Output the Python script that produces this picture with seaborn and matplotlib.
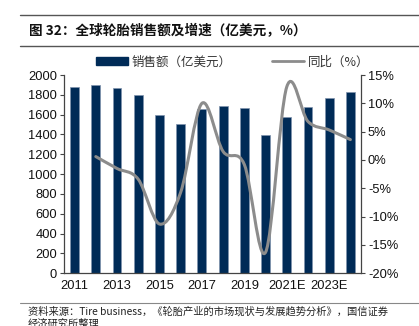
import matplotlib
matplotlib.use("Agg")
import matplotlib.pyplot as plt
import seaborn as sns
import pandas as pd
import numpy as np
from matplotlib.path import Path
from matplotlib.patches import PathPatch
from matplotlib.lines import Line2D
from matplotlib.patches import Patch

years = ["2011", "2012", "2013", "2014", "2015", "2016", "2017", "2018", "2019",
         "2020", "2021E", "2022E", "2023E", "2024E"]
sales = [1882, 1896, 1866, 1801, 1597, 1506, 1657, 1684, 1667, 1395, 1573, 1680, 1768, 1832]
yoy_years = years[1:]
yoy = [0.6, -1.5, -3.4, -11.3, -5.7, 10.0, 1.5, -0.8, -16.3, 12.9, 6.8, 5.3, 3.6]

title = "图 32：全球轮胎销售额及增速（亿美元，%）"
bar_label = "销售额（亿美元）"
line_label = "同比（%）"
source = "资料来源：Tire business，《轮胎产业的市场现状与发展趋势分析》，国信证券\n经济研究所整理"

sns.set_theme(style="white")
plt.rcParams['font.family'] = ['Liberation Sans', 'Noto Sans CJK SC', 'DejaVu Sans']
cjk = ['Noto Sans CJK SC', 'DejaVu Sans']

BAR = "#002b57"
LINE = "#8c8c8c"

fig = plt.figure(figsize=(4.19, 3.26), dpi=100)
ax = fig.add_axes([64/419, 1-273.3/326, (361-64)/419, (273.3-75)/326])

df = pd.DataFrame({"year": years, "sales": sales})
sns.barplot(data=df, x="year", y="sales", color=BAR, width=0.42, ax=ax,
            saturation=1, edgecolor="#7f93ad", linewidth=0.5)
ax.set_xlim(-0.5, len(years) - 0.5)
ax.set_ylim(0, 2000)
ax.set_yticks(range(0, 2001, 200))
ax.set_xlabel("")
ax.set_ylabel("")
ax.set_xticks(np.arange(-0.5, len(years), 1.0), minor=False)
ax.set_xticklabels([])
ax.set_xticks(np.arange(0, len(years), 2), minor=True)
ax.set_xticklabels(years[::2], minor=True)
ax.tick_params(axis="x", which="major", direction="out", length=3, width=0.8, color="#444444")
ax.tick_params(axis="x", which="minor", length=0, labelsize=9.3, pad=5, labelcolor="#111111")
ax.tick_params(axis="y", direction="out", length=3, width=0.8, color="#444444", labelsize=9.3, pad=2,
               labelcolor="#111111")
for s in ["top", "right"]:
    ax.spines[s].set_visible(False)
for s in ["left", "bottom"]:
    ax.spines[s].set_color("#444444")
    ax.spines[s].set_linewidth(0.9)

ax2 = ax.twinx()
ax2.set_ylim(-20, 15)
ax2.set_yticks(range(-20, 16, 5))
ax2.set_yticklabels([f"{v}%" for v in range(-20, 16, 5)])
ax2.tick_params(axis="y", direction="out", length=3, width=0.8, color="#444444", labelsize=9.3, pad=2,
                labelcolor="#111111")
for s in ["top", "left", "bottom"]:
    ax2.spines[s].set_visible(False)
ax2.spines["right"].set_color("#444444")
ax2.spines["right"].set_linewidth(0.9)

# smooth line (Catmull-Rom -> cubic Bezier) through the data points
xs = np.array([years.index(y) for y in yoy_years], dtype=float)
ys = np.array(yoy, dtype=float)
verts = [(xs[0], ys[0])]
codes = [Path.MOVETO]
n = len(xs)
for i in range(n - 1):
    p0 = np.array([xs[max(i-1, 0)], ys[max(i-1, 0)]])
    p1 = np.array([xs[i], ys[i]])
    p2 = np.array([xs[i+1], ys[i+1]])
    p3 = np.array([xs[min(i+2, n-1)], ys[min(i+2, n-1)]])
    c1 = p1 + (p2 - p0) / 6.0
    c2 = p2 - (p3 - p1) / 6.0
    verts += [tuple(c1), tuple(c2), tuple(p2)]
    codes += [Path.CURVE4] * 3
patch = PathPatch(Path(verts, codes), facecolor="none", edgecolor=LINE, lw=2.2,
                  capstyle="round", joinstyle="round")
ax2.add_patch(patch)

# legend
handles = [Patch(facecolor=BAR, edgecolor=BAR), Line2D([0], [0], color=LINE, lw=2)]
leg = fig.legend(handles, [bar_label, line_label], loc="center", bbox_to_anchor=(0.555, 1-62/326),
                 ncol=2, frameon=False, prop={"family": cjk, "size": 9},
                 handlelength=2.6, handleheight=0.6, columnspacing=3.2, handletextpad=0.3)
for t in leg.get_texts():
    t.set_color("#333333")

# title + rules
fig.add_artist(Line2D([20/419, 1], [1-15/326, 1-15/326], color="#555555", lw=1.0))
fig.add_artist(Line2D([20/419, 1], [1-46/326, 1-46/326], color="#555555", lw=1.0))
fig.text(29/419, 1-31.5/326, title, fontsize=9.8, fontweight="bold", family=cjk,
         va="center", ha="left", color="#111111")

# source
fig.add_artist(Line2D([20/419, 1], [1-303/326, 1-303/326], color="#888888", lw=0.8))
fig.text(28/419, 1-306/326, source, fontsize=7.4, family=cjk, va="top", ha="left",
         color="#222222", linespacing=1.3)

fig.savefig("out.png", dpi=100)
